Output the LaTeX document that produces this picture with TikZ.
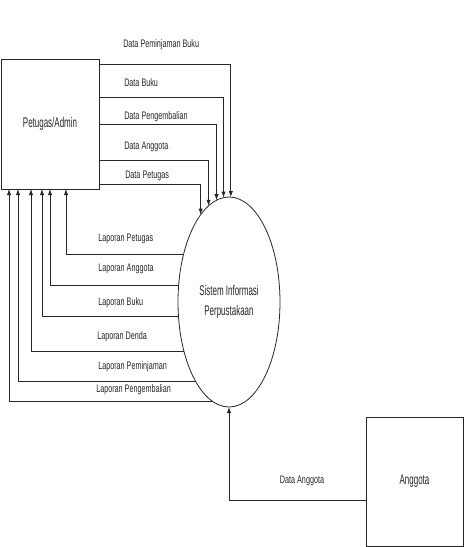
\documentclass[tikz,border=0pt]{standalone}
\usepackage{fontspec}
\setmainfont[FakeStretch=0.66]{Liberation Sans}
\newfontfamily\nodefont[FakeStretch=0.57]{Liberation Sans}
\usetikzlibrary{shapes.geometric,arrows.meta}
\begin{document}
\begin{tikzpicture}[x=0.75pt,y=-0.75pt,
  every node/.style={font=\fontsize{8.2pt}{10pt}\selectfont, text=black!85},
  box/.style={draw=black!85, line width=0.6pt, inner sep=0pt, outer sep=0pt,
              font=\nodefont\fontsize{10.5pt}{14.5pt}\selectfont},
  lbl/.style={inner sep=0pt, anchor=west},
  flow/.style={draw=black!85, line width=0.6pt, -{Latex[length=4.5pt,width=3.2pt]}},
]
\useasboundingbox (0,0) rectangle (467,547);
% entities and process
\node[box, minimum width=73.5pt, minimum height=97.5pt] (admin) at (50,124) {Petugas/Admin};
\node[box, ellipse, minimum width=76.5pt, minimum height=157.5pt, align=center] (sis) at (229,302) {Sistem Informasi\\Perpustakaan};
\node[box, minimum width=72.75pt, minimum height=96.75pt] (anggota) at (414.5,481.5) {Anggota};
% data flows from Petugas/Admin to the system
\draw[flow] (admin.east |- 0,64)  -| (sis.89.45);
\draw[flow] (admin.east |- 0,97)  -| (sis.93.85);
\draw[flow] (admin.east |- 0,124) -| (sis.97.89);
\draw[flow] (admin.east |- 0,160) -| (sis.102.38);
\draw[flow] (admin.east |- 0,184) -| (sis.108.56);
\node[lbl] (t1) at (123,45)  {Data Peminjaman Buku};
\node[lbl] (t2) at (124,83)  {Data Buku};
\node[lbl] (t3) at (124,117) {Data Pengembalian};
\node[lbl] (t4) at (124,147) {Data Anggota};
\node[lbl] (t5) at (125,176) {Data Petugas};
% reports from the system to Petugas/Admin
\draw[flow] (sis.134.9)  -| (admin.south -| 66,0);
\draw[flow] (sis.162.39) -| (admin.south -| 50,0);
\draw[flow] (sis.196.55) -| (admin.south -| 42,0);
\draw[flow] (sis.228.84) -| (admin.south -| 31,0);
\draw[flow] (sis.247.56) -| (admin.south -| 18,0);
\draw[flow] (sis.261.16) -| (admin.south -| 9,0);
\node[lbl] (r1) at (98,239) {Laporan Petugas};
\node[lbl] (r2) at (98,269) {Laporan Anggota};
\node[lbl] (r3) at (98,303) {Laporan Buku};
\node[lbl] (r4) at (97,337) {Laporan Denda};
\node[lbl] (r5) at (98,367) {Laporan Peminjaman};
\node[lbl] (r6) at (96,390) {Laporan Pengembalian};
% data from Anggota
\draw[flow] (anggota.west |- 0,500) -| (sis.south);
\node (a1) at (302,481) {Data Anggota};
\end{tikzpicture}
\end{document}
